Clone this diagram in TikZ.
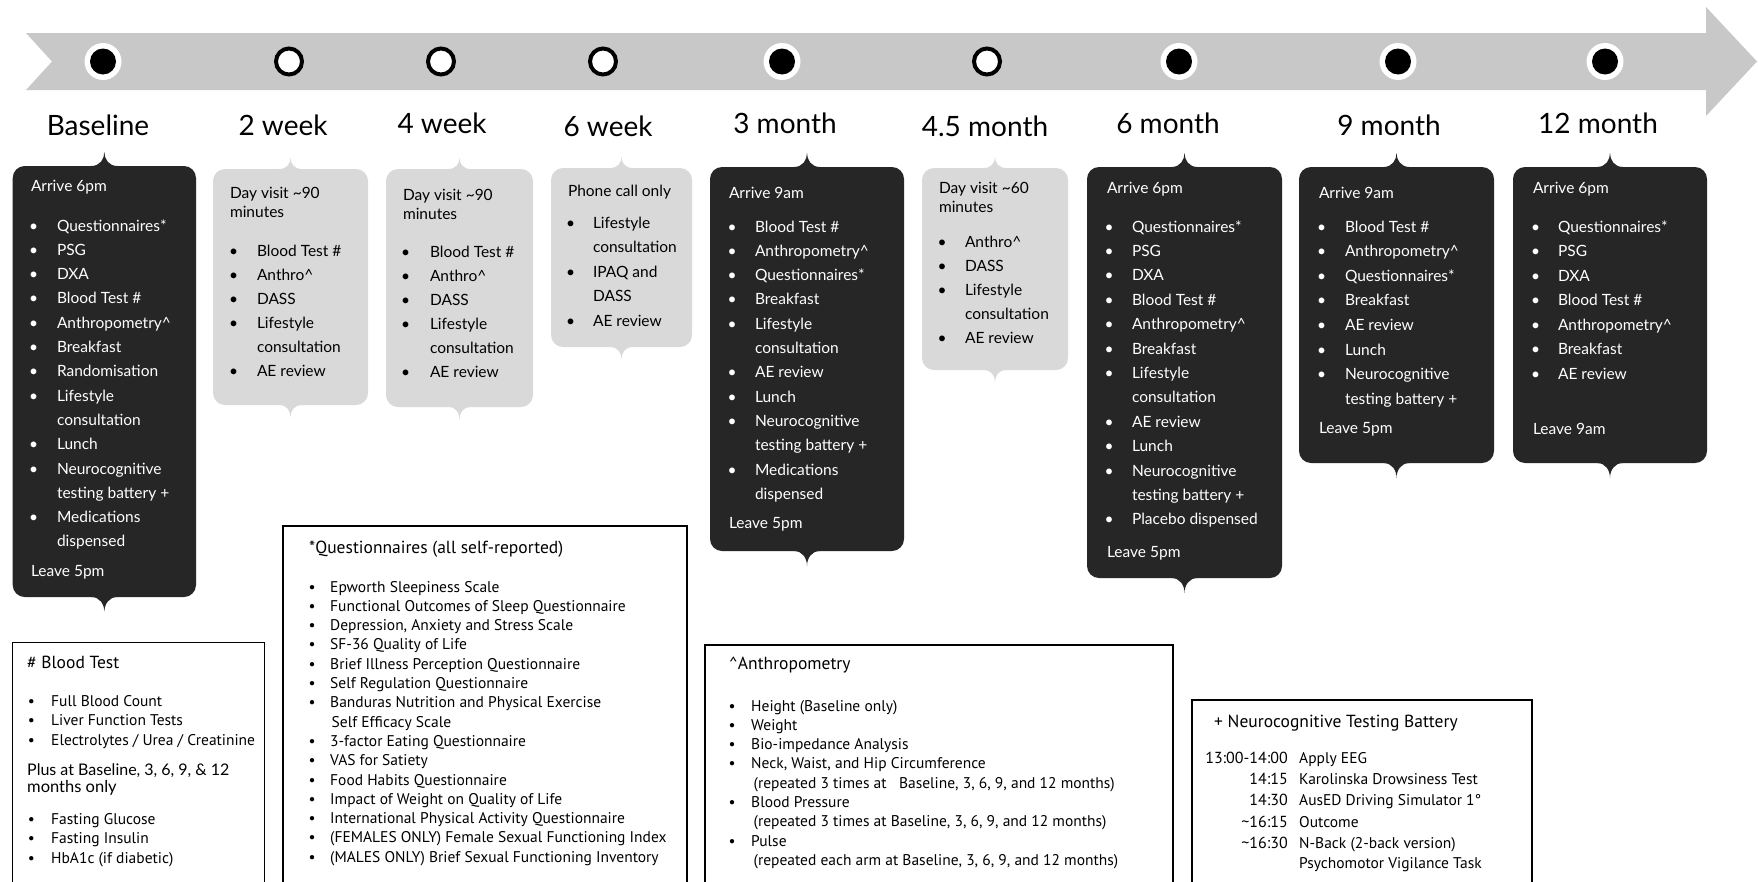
\documentclass[tikz,border=0pt]{standalone}
\usepackage{fontspec}
\setmainfont{Lato}
\newfontfamily\legfont{PT Sans}
\definecolor{band}{HTML}{C8C8C8}
\definecolor{dark}{HTML}{262626}
\definecolor{lgray}{HTML}{D9D9D9}
\tikzset{
  tl/.style={font=\fontsize{15.5}{18}\selectfont, inner sep=0pt, outer sep=0pt},
  tlw/.style={tl, text=white},
  tlb/.style={tl, text=black},
  ttl/.style={font=\fontsize{28}{32}\selectfont, inner sep=0pt, anchor=base},
  lg/.style={font=\legfont\fontsize{15.5}{18}\selectfont, inner sep=0pt},
  lgn/.style={font=\legfont\fontsize{15.5}{19}\selectfont, inner sep=0pt},
  lgtm/.style={font=\legfont\fontsize{16}{19}\selectfont, inner sep=0pt, anchor=base east},
  lgt/.style={font=\legfont\fontsize{17.5}{20}\selectfont, inner sep=0pt, anchor=base west},
  boxbase/.style={draw=none, rounded corners=12pt, inner sep=0pt, outer sep=0pt, anchor=north west},
  darkbox/.style={boxbase, fill=dark},
  graybox/.style={boxbase, fill=lgray},
  legbox/.style={draw=black, line width=1.4pt, fill=none, inner sep=0pt, outer sep=0pt, anchor=north west},
  dotout/.style={circle, fill=white, minimum size=37pt, inner sep=0pt},
  dotin/.style={circle, fill=black, minimum size=26pt, inner sep=0pt},
  dotopen/.style={circle, fill=white, draw=black, line width=4pt, minimum size=26pt, inner sep=0pt},
}
% text lines: style, name, x, y0, pitch, list
\newcommand\tltext[6]{\foreach \t [count=\k from 0] in {#6} {\node[#1, anchor=base west] (#2-\k) at (#3, #4+#5*\k) {\t};}}
% bullets: style, name, x, y0, pitch, index list
\newcommand\tlbul[6]{\foreach \k in {#6} {\node[#1, anchor=base] (#2-b\k) at (#3, #4+#5*\k) {\textbullet};}}
% pointers: node, halfwidth, height, colour
\newcommand\ptrtop[4]{\fill[#4] ([xshift=-#2pt,yshift=-1pt]#1.north) -- ([xshift=-#2pt]#1.north) .. controls ([xshift=-#2pt/3]#1.north) and ([yshift=#3pt/2]#1.north) .. ([yshift=#3pt]#1.north) .. controls ([yshift=#3pt/2]#1.north) and ([xshift=#2pt/3]#1.north) .. ([xshift=#2pt]#1.north) -- ([xshift=#2pt,yshift=-1pt]#1.north) -- cycle;}
\newcommand\ptrbot[4]{\fill[#4] ([xshift=-#2pt,yshift=1pt]#1.south) -- ([xshift=-#2pt]#1.south) .. controls ([xshift=-#2pt/3]#1.south) and ([yshift=-#3pt/2]#1.south) .. ([yshift=-#3pt]#1.south) .. controls ([yshift=-#3pt/2]#1.south) and ([xshift=#2pt/3]#1.south) .. ([xshift=#2pt]#1.south) -- ([xshift=#2pt,yshift=1pt]#1.south) -- cycle;}
\begin{document}
\begin{tikzpicture}[x=1pt, y=-1pt]
\useasboundingbox (0,0) rectangle (1758,881);
\fill[white] (0,0) rectangle (1758,881);
\clip (0,0) rectangle (1758,881);
% timeline band
\fill[band] (26,33) -- (1706,33) -- (1706,7) -- (1757,61.5) -- (1706,116) -- (1706,90) -- (26,90) -- (52,61.5) -- cycle;
% dots
\foreach \x [count=\i] in {103,782,1179,1398,1605} {
  \node[dotout] (dO\i) at (\x,61.5) {};
  \node[dotin] (dI\i) at (dO\i) {};
}
\foreach \x [count=\i] in {289,441,603,987} {
  \node[dotopen] (dW\i) at (\x,61.5) {};
}
% titles
\node[ttl] (t0) at (98,135) {Baseline};
\node[ttl] (t1) at (283,135) {2 week};
\node[ttl] (t2) at (442,133) {4 week};
\node[ttl] (t3) at (608,136) {6 week};
\node[ttl] (t4) at (785,133) {3 month};
\node[ttl] (t5) at (985,136) {4.5 month};
\node[ttl] (t6) at (1168,133) {6 month};
\node[ttl] (t7) at (1389,135) {9 month};
\node[ttl] (t8) at (1598,133) {12 month};
% boxes
\node[darkbox, minimum width=183.3pt, minimum height=431pt] (bx0) at (12.7,166) {};
\node[graybox, minimum width=155pt, minimum height=236pt] (bx1) at (213,169) {};
\node[graybox, minimum width=147pt, minimum height=238pt] (bx2) at (386,169) {};
\node[graybox, minimum width=141pt, minimum height=179pt] (bx3) at (551,168) {};
\node[darkbox, minimum width=194pt, minimum height=384pt] (bx4) at (710,167) {};
\node[graybox, minimum width=146pt, minimum height=202pt] (bx5) at (922,168) {};
\node[darkbox, minimum width=195pt, minimum height=411pt] (bx6) at (1087,167) {};
\node[darkbox, minimum width=195pt, minimum height=296pt] (bx7) at (1299,167) {};
\node[darkbox, minimum width=194pt, minimum height=296pt] (bx8) at (1513,167) {};
\foreach \b in {bx0,bx4,bx6,bx7,bx8} {\ptrtop{\b}{13}{14}{dark}\ptrbot{\b}{13}{15}{dark}}
\foreach \b in {bx1,bx2,bx3,bx5} {\ptrtop{\b}{11}{11}{lgray}\ptrbot{\b}{11}{12}{lgray}}
% Baseline
\node[tlw, anchor=base west] (h0) at (31,191) {Arrive 6pm};
\tltext{tlw}{i0}{57}{231}{24.3}{Questionnaires*, PSG, DXA, Blood Test \#, Anthropometry\textasciicircum, Breakfast, Randomisation, Lifestyle, consultation, Lunch, Neurocognitive, testing battery +, Medications, dispensed}
\tlbul{tlw}{i0}{33.5}{231}{24.3}{0,1,2,3,4,5,6,7,9,10,12}
\node[tlw, anchor=base west] (e0) at (31,576) {Leave 5pm};
% 2 week
\tltext{tlb}{h1}{230}{198}{19}{Day visit \textasciitilde90, minutes}
\tltext{tlb}{i1}{257}{256}{24}{Blood Test \#, Anthro\textasciicircum, DASS, Lifestyle, consultation, AE review}
\tlbul{tlb}{i1}{233.5}{256}{24}{0,1,2,3,5}
% 4 week
\tltext{tlb}{h2}{403}{200}{19}{Day visit \textasciitilde90, minutes}
\tltext{tlb}{i2}{430}{257}{24}{Blood Test \#, Anthro\textasciicircum, DASS, Lifestyle, consultation, AE review}
\tlbul{tlb}{i2}{405.5}{257}{24}{0,1,2,3,5}
% 6 week
\node[tlb, anchor=base west] (h3) at (568,196) {Phone call only};
\tltext{tlb}{i3}{593}{228}{24.5}{Lifestyle, consultation, IPAQ and, DASS, AE review}
\tlbul{tlb}{i3}{570.5}{228}{24.5}{0,2,4}
% 3 month
\node[tlw, anchor=base west] (h4) at (729,198) {Arrive 9am};
\tltext{tlw}{i4}{755}{232}{24.3}{Blood Test \#, Anthropometry\textasciicircum, Questionnaires*, Breakfast, Lifestyle, consultation, AE review, Lunch, Neurocognitive, testing battery +, Medications, dispensed}
\tlbul{tlw}{i4}{732}{232}{24.3}{0,1,2,3,4,6,7,8,10}
\node[tlw, anchor=base west] (e4) at (729,528) {Leave 5pm};
% 4.5 month
\tltext{tlb}{h5}{939}{193}{19}{Day visit \textasciitilde60, minutes}
\tltext{tlb}{i5}{965}{247}{24.2}{Anthro\textasciicircum, DASS, Lifestyle, consultation, AE review}
\tlbul{tlb}{i5}{942}{247}{24.2}{0,1,2,4}
% 6 month
\node[tlw, anchor=base west] (h6) at (1107,193) {Arrive 6pm};
\tltext{tlw}{i6}{1132}{232}{24.4}{Questionnaires*, PSG, DXA, Blood Test \#, Anthropometry\textasciicircum, Breakfast, Lifestyle, consultation, AE review, Lunch, Neurocognitive, testing battery +, Placebo dispensed}
\tlbul{tlw}{i6}{1109}{232}{24.4}{0,1,2,3,4,5,6,8,9,10,12}
\node[tlw, anchor=base west] (e6) at (1107,557) {Leave 5pm};
% 9 month
\node[tlw, anchor=base west] (h7) at (1319,198) {Arrive 9am};
\tltext{tlw}{i7}{1345}{232}{24.6}{Blood Test \#, Anthropometry\textasciicircum, Questionnaires*, Breakfast, AE review, Lunch, Neurocognitive, testing battery +}
\tlbul{tlw}{i7}{1321.5}{232}{24.6}{0,1,2,3,4,5,6}
\node[tlw, anchor=base west] (e7) at (1319,433) {Leave 5pm};
% 12 month
\node[tlw, anchor=base west] (h8) at (1533,193) {Arrive 6pm};
\tltext{tlw}{i8}{1558}{232}{24.5}{Questionnaires*, PSG, DXA, Blood Test \#, Anthropometry\textasciicircum, Breakfast, AE review}
\tlbul{tlw}{i8}{1535.5}{232}{24.5}{0,1,2,3,4,5,6}
\node[tlw, anchor=base west] (e8) at (1533,434) {Leave 9am};
% legend: blood test
\node[legbox, minimum width=252pt, minimum height=300pt] (lb1) at (12.7,642.7) {};
\node[lgt] (lb1-t) at (27,668) {\# Blood Test};
\tltext{lg}{lb1a}{51}{706}{19.5}{Full Blood Count, Liver Function Tests, Electrolytes / Urea / Creatinine}
\tlbul{lg}{lb1a}{31.5}{706}{19.5}{0,1,2}
\node[font=\fontsize{16}{20}\selectfont, inner sep=0pt, anchor=base west] (lb1-p) at (27,775) {Plus at Baseline, 3, 6, 9, \& 12};
\node[font=\fontsize{16.5}{18}\selectfont, inner sep=0pt, anchor=base west] (lb1-m) at (27,792) {months only};
\tltext{lg}{lb1b}{51}{824}{19.5}{Fasting Glucose, Fasting Insulin, HbA1c (if diabetic)}
\tlbul{lg}{lb1b}{31.5}{824}{19.5}{0,1,2}
% legend: questionnaires
\node[legbox, minimum width=404pt, minimum height=400pt] (lb2) at (283,526) {};
\node[lgt] (lb2-t) at (309,553) {*Questionnaires (all self-reported)};
\tltext{lg}{lb2a}{330}{592}{19.3}{Epworth Sleepiness Scale, Functional Outcomes of Sleep Questionnaire, {Depression, Anxiety and Stress Scale}, SF-36 Quality of Life, Brief Illness Perception Questionnaire, Self Regulation Questionnaire, Banduras Nutrition and Physical Exercise, \hspace{1.5pt}Self Efficacy Scale, 3-factor Eating Questionnaire, VAS for Satiety, Food Habits Questionnaire, Impact of Weight on Quality of Life, International Physical Activity Questionnaire, (FEMALES ONLY) Female Sexual Functioning Index, (MALES ONLY) Brief Sexual Functioning Inventory}
\tlbul{lg}{lb2a}{312}{592}{19.3}{0,1,2,3,4,5,6,8,9,10,11,12,13,14}
% legend: anthropometry
\node[legbox, minimum width=468pt, minimum height=300pt] (lb3) at (705,645) {};
\node[lgt] (lb3-t) at (729,669) {\textasciicircum Anthropometry};
\tltext{lg}{lb3a}{751}{711}{19.3}{Height (Baseline only), Weight, Bio-impedance Analysis, {Neck, Waist, and Hip Circumference}, {\hspace{2.5pt}(repeated 3 times at \ \ Baseline, 3, 6, 9, and 12 months)}, Blood Pressure, {\hspace{2.5pt}(repeated 3 times at Baseline, 3, 6, 9, and 12 months)}, Pulse, {\hspace{2.5pt}(repeated each arm at Baseline, 3, 6, 9, and 12 months)}}
\tlbul{lg}{lb3a}{732}{711}{19.3}{0,1,2,3,5,7}
% legend: neurocognitive
\node[legbox, minimum width=340pt, minimum height=300pt] (lb4) at (1192,700) {};
\node[lgt] (lb4-t) at (1214,727) {+ Neurocognitive Testing Battery};
\node[lgtm] (n0t) at (1288,763) {13:00-14:00};
\node[lgtm] (n1t) at (1288,784) {14:15};
\node[lgtm] (n2t) at (1288,805) {14:30};
\node[lgtm] (n3t) at (1288,827) {\textasciitilde16:15};
\node[lgtm] (n4t) at (1288,848) {\textasciitilde16:30};
\node[lgn, anchor=base west] (n0) at (1299,763) {Apply EEG};
\node[lgn, anchor=base west] (n1) at (1299,784) {Karolinska Drowsiness Test};
\node[lgn, anchor=base west] (n2) at (1299,805) {AusED Driving Simulator 1°};
\node[lgn, anchor=base west] (n3) at (1299,827) {Outcome};
\node[lgn, anchor=base west] (n4) at (1299,848) {N-Back (2-back version)};
\node[lgn, anchor=base west] (n5) at (1299,868) {Psychomotor Vigilance Task};
\end{tikzpicture}
\end{document}
